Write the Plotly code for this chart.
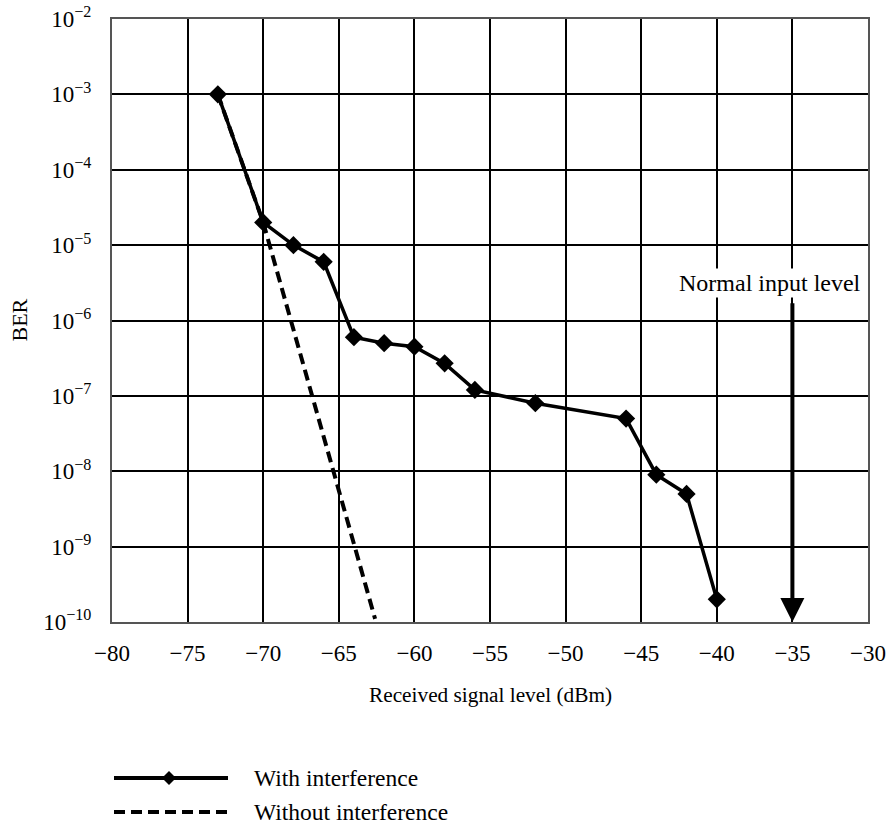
import math
import plotly.graph_objects as go

# ---- data ----
x_with = [-73, -70, -68, -66, -64, -62, -60, -58, -56, -52, -46, -44, -42, -40]
ber_with = [1e-3, 2e-5, 1e-5, 6e-6, 6e-7, 5e-7, 4.5e-7, 2.7e-7, 1.2e-7, 8e-8, 5e-8, 9e-9, 5e-9, 2e-10]
x_without = [-73, -70, -62.6]
ber_without = [1e-3, 2e-5, 1.1e-10]

x_ticks = [-80, -75, -70, -65, -60, -55, -50, -45, -40, -35, -30]
y_exps = [-10, -9, -8, -7, -6, -5, -4, -3, -2]
normal_level = -35
arrow_top_ber = 1.77e-6

FONT = "Liberation Serif, Times New Roman, serif"
W, H = 887, 828
ML, MR, MT, MB = 112, 19, 19, 206
PW = W - ML - MR
PH = H - MT - MB

def px(xp):
    return (xp - ML) / PW

def py(yp):
    return (H - MB - yp) / PH

DASH = "11px,6px"

fig = go.Figure()
fig.add_trace(go.Scatter(x=x_without, y=ber_without, mode="lines",
                         line=dict(color="black", width=4, dash=DASH),
                         showlegend=False, hoverinfo="skip"))
fig.add_trace(go.Scatter(x=x_with, y=ber_with, mode="lines+markers",
                         line=dict(color="black", width=3.5),
                         marker=dict(symbol="diamond", size=14, color="black"),
                         showlegend=False))

fig.update_layout(
    width=W, height=H,
    margin=dict(l=ML, r=MR, t=MT, b=MB, pad=0, autoexpand=False),
    paper_bgcolor="white", plot_bgcolor="white",
    font=dict(family=FONT, size=22, color="black"),
    showlegend=False,
)
fig.update_xaxes(range=[-80, -30], tickvals=x_ticks, automargin=False,
                 ticktext=[("\u2212%d" % (-v)) if v < 0 else str(v) for v in x_ticks],
                 showgrid=True, gridcolor="black", gridwidth=2,
                 showline=True, linecolor="#555", linewidth=2, mirror=True,
                 ticks="", ticklabelstandoff=9, zeroline=False,
                 tickfont=dict(size=23))
fig.update_yaxes(type="log", range=[-10, -2], automargin=False,
                 tickvals=[10.0 ** e for e in y_exps],
                 ticktext=["10<sup>\u2212%d</sup>" % (-e) for e in y_exps],
                 showgrid=True, gridcolor="black", gridwidth=2,
                 showline=True, linecolor="#555", linewidth=2, mirror=True,
                 ticks="", ticklabelstandoff=14, zeroline=False,
                 tickfont=dict(size=23))

# axis titles
fig.add_annotation(text="Received signal level (dBm)", xref="paper", yref="paper",
                   x=0.5, y=py(695), xanchor="center", yanchor="middle",
                   showarrow=False, font=dict(size=21.3))
fig.add_annotation(text="BER", xref="paper", yref="paper",
                   x=px(19), y=0.5, xanchor="center", yanchor="middle",
                   textangle=-90, showarrow=False, font=dict(size=22))

# normal input level arrow + label
fig.add_annotation(x=normal_level, y=-10, ax=normal_level, ay=math.log10(arrow_top_ber),
                   xref="x", yref="y", axref="x", ayref="y", text="",
                   showarrow=True, arrowhead=2, arrowwidth=4, arrowsize=1.2,
                   arrowcolor="black")
fig.add_annotation(text="Normal input level", x=-36.5, y=-5.5, xref="x", yref="y",
                   showarrow=False, bgcolor="white", borderpad=1,
                   font=dict(size=24))

# legend (manual)
rows = [(778, "With interference", "solid", True), (812, "Without interference", "dash", False)]
for yp, label, dash, marker in rows:
    fig.add_shape(type="line", xref="paper", yref="paper",
                  x0=px(114), x1=px(228), y0=py(yp), y1=py(yp),
                  line=dict(color="black", width=4, dash=DASH if dash == "dash" else "solid"))
    if marker:
        cx, cy, r = 169, yp, 7
        path = "M %f %f L %f %f L %f %f L %f %f Z" % (
            px(cx), py(cy - r), px(cx + r), py(cy), px(cx), py(cy + r), px(cx - r), py(cy))
        fig.add_shape(type="path", xref="paper", yref="paper", path=path,
                      fillcolor="black", line=dict(color="black", width=0))
    fig.add_annotation(text=label, xref="paper", yref="paper", x=px(252), y=py(yp),
                       xanchor="left", yanchor="middle", showarrow=False,
                       font=dict(size=23.5))

fig.write_html("out.html")
